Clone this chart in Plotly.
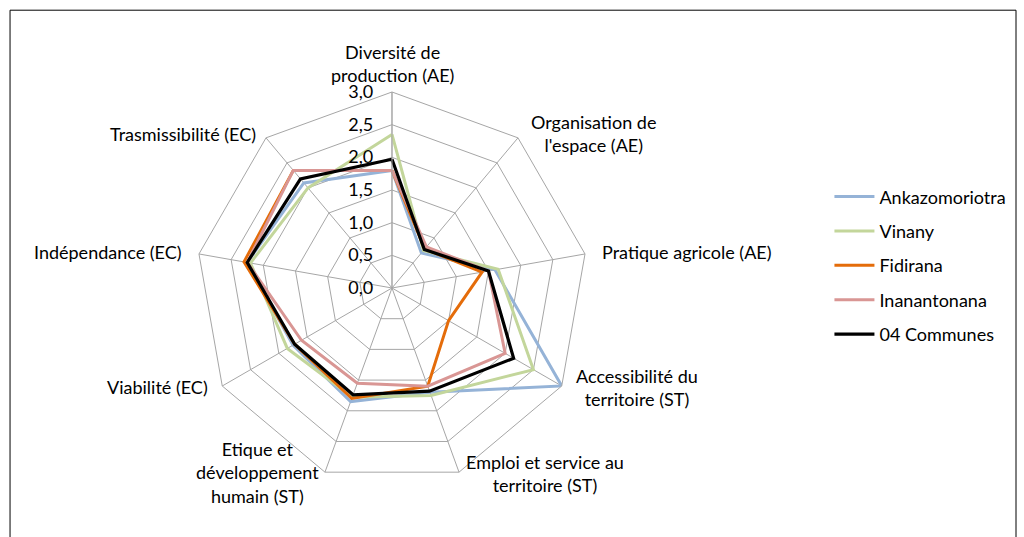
import plotly.graph_objects as go

# Axes of the radar (clockwise from top)
categories = [
    'Diversité de<br>production (AE)',
    'Organisation de<br>l\'espace (AE)',
    'Pratique agricole (AE)',
    'Accessibilité du<br>territoire (ST)',
    'Emploi et service au<br>territoire (ST)',
    'Etique et<br>développement<br>humain (ST)',
    'Viabilité (EC)',
    'Indépendance (EC)',
    'Trasmissibilité (EC)',
]

ankazomoriotra = [1.80, 0.70, 1.60, 3.00, 1.70, 1.85, 1.75, 2.25, 2.10]
vinany = [2.35, 0.75, 1.65, 2.50, 1.75, 1.78, 1.85, 2.20, 2.00]
fidirana = [1.80, 0.78, 1.40, 1.00, 1.60, 1.80, 1.72, 2.30, 2.35]
inanantonana = [1.80, 0.82, 1.50, 2.00, 1.60, 1.55, 1.60, 2.25, 2.35]
communes = [1.97, 0.77, 1.50, 2.15, 1.68, 1.74, 1.72, 2.25, 2.18]

radial_ticks = [0, 0.5, 1.0, 1.5, 2.0, 2.5, 3.0]
radial_labels = ['0,0', '0,5', '1,0', '1,5', '2,0', '2,5', '3,0']

series = [
    ('Ankazomoriotra', ankazomoriotra, '#95B3D7', 3),
    ('Vinany', vinany, '#C3D69B', 3),
    ('Fidirana', fidirana, '#E46C0A', 3),
    ('Inanantonana', inanantonana, '#D99694', 3),
    ('04 Communes', communes, '#000000', 3.2),
]

# where each axis label sits, in pixels of the 1024x537 page (x, y, anchor)
label_pos = [
    (392, 64, 'center'),
    (593, 134, 'center'),
    (600, 252, 'left'),
    (637, 387, 'center'),
    (545, 473, 'center'),
    (257, 472, 'center'),
    (210, 387, 'right'),
    (184, 252, 'right'),
    (258, 134, 'right'),
]

W, H = 1024, 537

fig = go.Figure()

for name, vals, color, width in series:
    # close the polygon by repeating the first point
    fig.add_trace(go.Scatterpolar(
        r=vals + vals[:1],
        theta=categories + categories[:1],
        name=name,
        mode='lines',
        line=dict(color=color, width=width),
        legendgroup=name,
    ))

annotations = []
for text, (px, py, anchor) in zip(categories, label_pos):
    annotations.append(dict(
        text=text, xref='paper', yref='paper',
        x=px / W, y=1 - py / H,
        xanchor=anchor, yanchor='middle', align='center',
        showarrow=False,
        font=dict(family='Lato', size=18, color='#000000'),
    ))

fig.update_layout(
    width=W,
    height=H,
    margin=dict(l=0, r=0, t=0, b=0),
    paper_bgcolor='white',
    font=dict(family='Lato', size=18, color='#000000'),
    polar=dict(
        domain=dict(x=[0.1914, 0.5742], y=[0.0987, 0.8287]),
        bgcolor='white',
        gridshape='linear',
        angularaxis=dict(
            direction='clockwise',
            rotation=90,
            showline=True,
            linecolor='#A6A6A6',
            linewidth=1,
            gridcolor='#A6A6A6',
            gridwidth=1,
            ticks='',
            showticklabels=False,
        ),
        radialaxis=dict(
            range=[0, 3],
            angle=90,
            tickangle=90,
            side='counterclockwise',
            tickvals=radial_ticks,
            ticktext=radial_labels,
            showline=True,
            linecolor='#A6A6A6',
            gridcolor='#A6A6A6',
            gridwidth=1,
            ticks='outside',
            ticklen=12,
            tickcolor='rgba(0,0,0,0)',
            tickfont=dict(family='Lato', size=18, color='#000000'),
        ),
    ),
    legend=dict(
        x=0.81,
        y=0.668,
        xanchor='left',
        yanchor='top',
        tracegroupgap=8,
        font=dict(family='Lato', size=18, color='#000000'),
        itemwidth=40,
    ),
    annotations=annotations,
    shapes=[dict(
        type='rect', xref='paper', yref='paper',
        x0=0.0098, x1=0.9922, y0=-0.01, y1=0.981,
        line=dict(color='#000000', width=1),
    )],
)

# drop the default 8px body margin so the figure sits at the page's corner
fig.write_html("out.html", config={'displayModeBar': False},
               post_script="document.body.style.margin='0';")
